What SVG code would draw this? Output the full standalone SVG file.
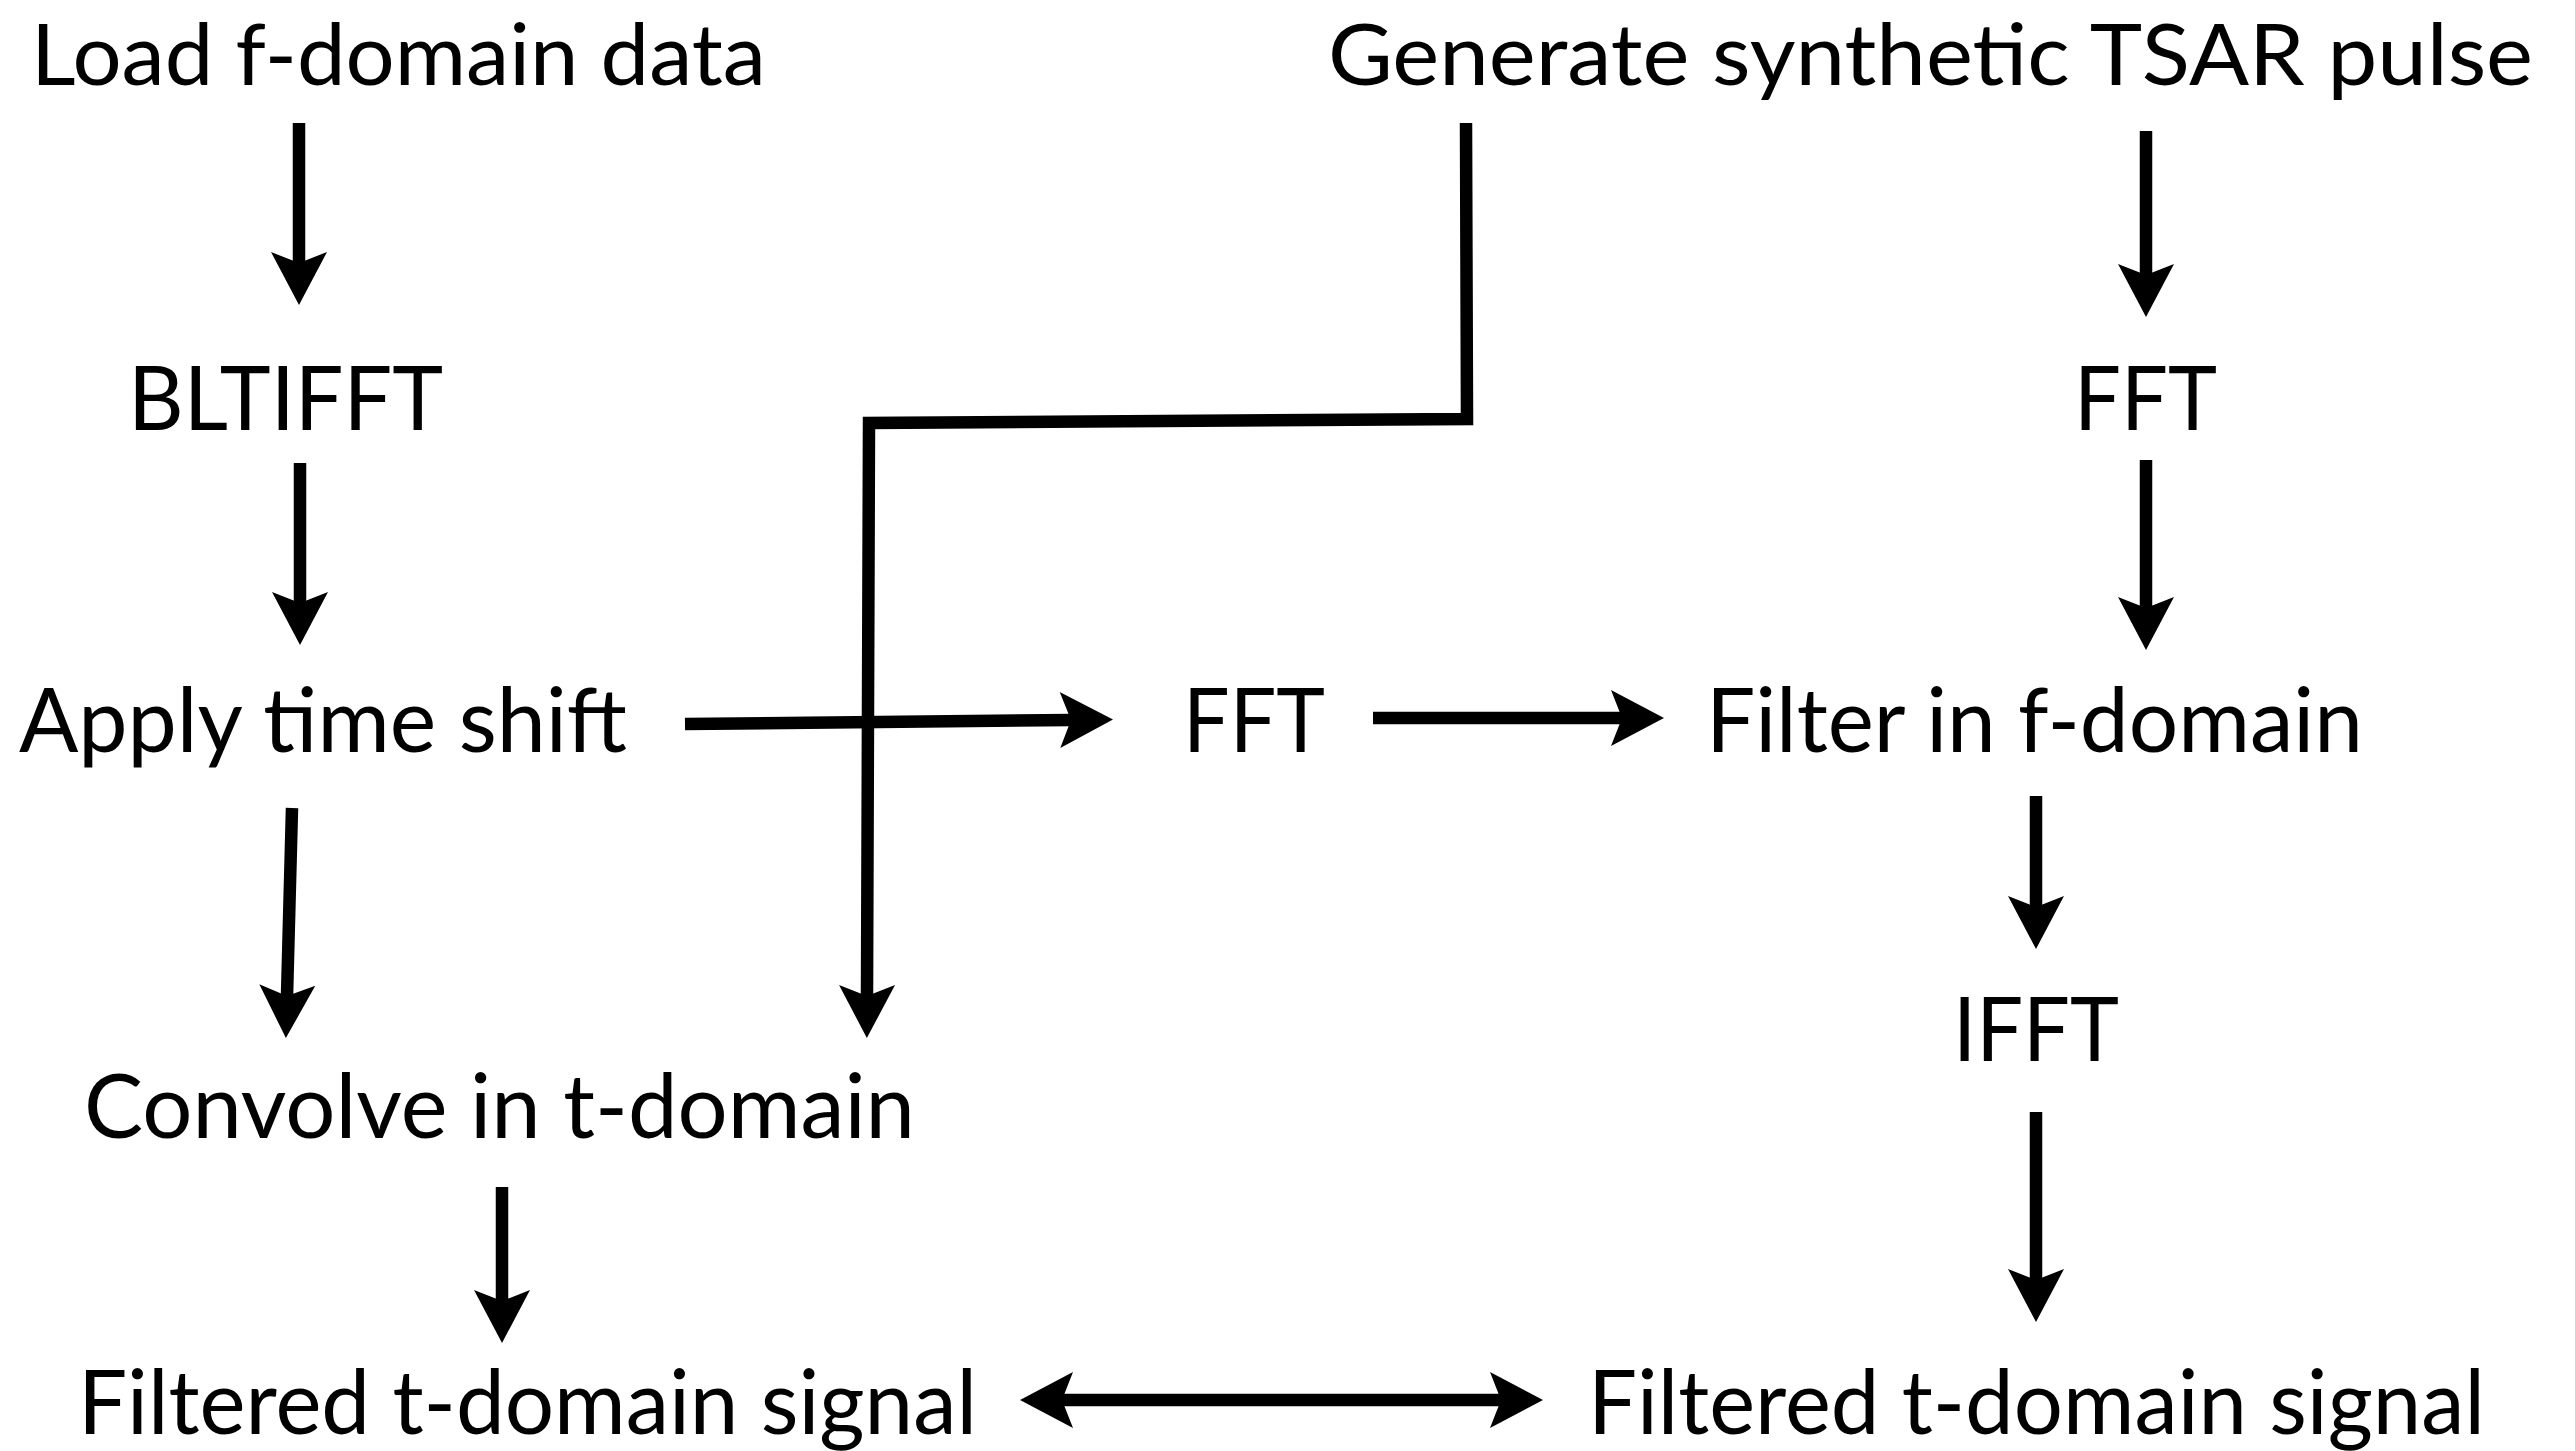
<svg xmlns="http://www.w3.org/2000/svg" width="2575" height="1451" viewBox="0 0 2575 1451">
  <style>
    .label { font-family: Lato, "Open Sans", "Liberation Sans", sans-serif; font-size: 90px; fill: #000; }
    .top { font-size: 86px; }
    .wire { fill: none; stroke: #000; stroke-width: 12.5; stroke-linecap: butt; stroke-linejoin: miter; }
    .arrow { marker-end: url(#head); }
  </style>
  <defs>
    <!-- barbed arrowhead; origin sits at the notch where the shaft ends -->
    <marker id="head" markerUnits="userSpaceOnUse" viewBox="-12 -29 56 58" refX="0" refY="0" markerWidth="56" markerHeight="58" orient="auto-start-reverse">
      <path d="M42,0 L-11,-28 L0,0 L-11,28 Z" fill="#000"/>
    </marker>
  </defs>
  <rect width="2575" height="1451" fill="#fff"/>

  <g id="connectors">
    <path class="wire arrow" d="M299,123 L299,263"/>
    <path class="wire arrow" d="M300,463 L300,603"/>
    <path class="wire arrow" d="M685,724 L1071,720"/>
    <path class="wire arrow" d="M1373,718 L1622,718"/>
    <path class="wire arrow" d="M2146,131 L2146,275"/>
    <path class="wire arrow" d="M2146,460 L2146,608"/>
    <path class="wire arrow" d="M2036,796 L2036,907"/>
    <path class="wire arrow" d="M2036,1112 L2036,1280"/>
    <path class="wire arrow" d="M292,808 L287,996"/>
    <path class="wire arrow" d="M1466,123 L1467,419 L869,423 L867,996"/>
    <path class="wire arrow" d="M502,1187 L502,1301"/>
    <path class="wire" d="M1062,1400 L1501,1400" marker-start="url(#head)" marker-end="url(#head)"/>
  </g>

  <g id="load">
    <text class="label top" x="31" y="85" textLength="735" lengthAdjust="spacingAndGlyphs">Load f-domain data</text>
  </g>
  <g id="generate">
    <text class="label top" x="1328" y="85" textLength="1205" lengthAdjust="spacingAndGlyphs">Generate synthetic TSAR pulse</text>
  </g>
  <g id="bltifft">
    <text class="label" x="128" y="430" textLength="315" lengthAdjust="spacingAndGlyphs">BLTIFFT</text>
  </g>
  <g id="fft-pulse">
    <text class="label" x="2074" y="430" textLength="143" lengthAdjust="spacingAndGlyphs">FFT</text>
  </g>
  <g id="timeshift">
    <text class="label" x="19" y="752" textLength="608" lengthAdjust="spacingAndGlyphs">Apply time shift</text>
  </g>
  <g id="fft-data">
    <text class="label" x="1183" y="752" textLength="142" lengthAdjust="spacingAndGlyphs">FFT</text>
  </g>
  <g id="filter">
    <text class="label" x="1706" y="752" textLength="657" lengthAdjust="spacingAndGlyphs">Filter in f-domain</text>
  </g>
  <g id="ifft">
    <text class="label" x="1953" y="1061" textLength="166" lengthAdjust="spacingAndGlyphs">IFFT</text>
  </g>
  <g id="convolve">
    <text class="label" x="84" y="1138" textLength="831" lengthAdjust="spacingAndGlyphs">Convolve in t-domain</text>
  </g>
  <g id="signal-t">
    <text class="label" x="78" y="1434" textLength="899" lengthAdjust="spacingAndGlyphs">Filtered t-domain signal</text>
  </g>
  <g id="signal-f">
    <text class="label" x="1588" y="1434" textLength="897" lengthAdjust="spacingAndGlyphs">Filtered t-domain signal</text>
  </g>
</svg>
